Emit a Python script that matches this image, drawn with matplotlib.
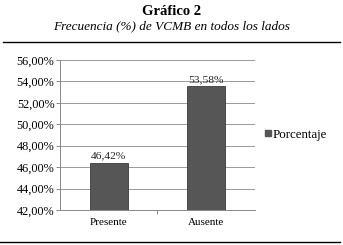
import matplotlib.pyplot as plt
from matplotlib.lines import Line2D
from matplotlib.ticker import FuncFormatter

categorias = ['Presente', 'Ausente']
porcentajes = [46.42, 53.58]
etiquetas = ['46,42%', '53,58%']

plt.rcParams['font.family'] = ['Liberation Serif', 'DejaVu Serif']

fig = plt.figure(figsize=(3.43, 2.45), dpi=100)
ax = fig.add_axes([0.175, 0.143, 0.568, 0.612])

barras = ax.bar(categorias, porcentajes, width=0.39, color='#565656',
                edgecolor='#3a3a3a', linewidth=0.6, zorder=3, label='Porcentaje')
for b, t in zip(barras, etiquetas):
    ax.text(b.get_x() + b.get_width() / 2, b.get_height() + 0.2, t,
            ha='center', va='bottom', fontsize=8.2, color='#222222')

ax.set_ylim(42, 56)
ax.set_yticks(range(42, 57, 2))
ax.yaxis.set_major_formatter(FuncFormatter(lambda v, p: f'{v:.2f}%'.replace('.', ',')))
ax.set_xlim(-0.5, 1.5)
ax.grid(axis='y', color='#9a9a9a', linewidth=0.7, zorder=0)
for s in ['top', 'right']:
    ax.spines[s].set_visible(False)
for s in ['left', 'bottom']:
    ax.spines[s].set_color('#888888')
    ax.spines[s].set_linewidth(0.7)
ax.tick_params(axis='y', labelsize=8.8, length=3, color='#888888', width=0.7, pad=1)
ax.tick_params(axis='x', labelsize=8, length=0, pad=6)
ax.set_xticks([0.5], minor=True)
ax.tick_params(axis='x', which='minor', length=3, color='#888888', width=0.7)

ax.legend(handles=[Line2D([], [], marker='s', linestyle='', color='#565656',
                          markersize=5, label='Porcentaje')],
          loc='center left', bbox_to_anchor=(1.0, 0.5), frameon=False,
          fontsize=9.3, handletextpad=-0.2, handlelength=1.2, borderaxespad=0)

fig.text(0.5, 0.955, 'Gráfico 2', ha='center', va='center', fontsize=10.5, fontweight='bold')
fig.text(0.5, 0.893, 'Frecuencia (%) de VCMB en todos los lados', ha='center', va='center',
         fontsize=9.5, style='italic')
fig.add_artist(Line2D([0.01, 0.99], [0.829, 0.829], color='black', linewidth=1.0))
fig.add_artist(Line2D([0.0, 0.99], [0.012, 0.012], color='black', linewidth=1.0))

fig.savefig('out.png', dpi=100)
